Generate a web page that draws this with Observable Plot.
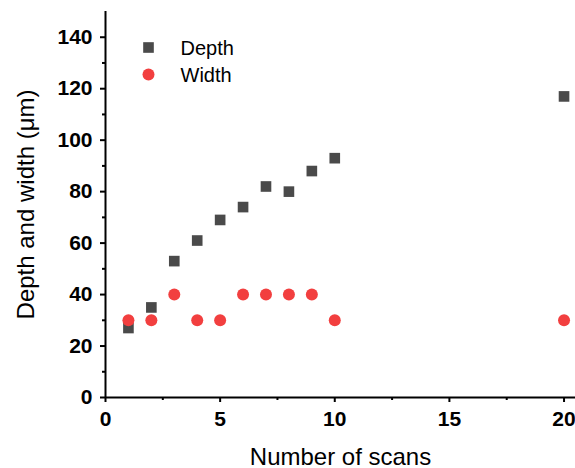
<!DOCTYPE html>
<html>
<head>
<meta charset="utf-8">
<script src="https://cdn.jsdelivr.net/npm/d3@7"></script>
<script src="https://cdn.jsdelivr.net/npm/@observablehq/plot@0.6"></script>
<style>
  html, body { margin: 0; padding: 0; background: #fff; }
  svg { display: block; }
</style>
</head>
<body>
<div id="chart"></div>
<script>
const scans = [1, 2, 3, 4, 5, 6, 7, 8, 9, 10, 20];
const depth = [27, 35, 53, 61, 69, 74, 82, 80, 88, 93, 117];
const widthVals = [30, 30, 40, 30, 30, 40, 40, 40, 40, 30, 30];
const xTicks = [0, 5, 10, 15, 20];
const xMinor = [2.5, 7.5, 12.5, 17.5];
const yTicks = [0, 20, 40, 60, 80, 100, 120, 140];
const yMinor = [10, 30, 50, 70, 90, 110, 130];
const seriesNames = ["Depth", "Width"];
const xLabel = "Number of scans";
const yLabel = "Depth and width (μm)";

const depthData = scans.map((s, i) => ({x: s, y: depth[i]}));
const widthData = scans.map((s, i) => ({x: s, y: widthVals[i]}));

const font = "'Liberation Sans', Arial, sans-serif";
const gray = "#4a4a4a";
const red = "#f23f3f";

const chart = Plot.plot({
  width: 575,
  height: 468,
  marginLeft: 105,
  marginRight: 0,
  marginTop: 11,
  marginBottom: 71,
  style: {fontFamily: font, background: "white", color: "black"},
  x: {domain: [0, 20.5]},
  y: {domain: [0, 150]},
  marks: [
    Plot.axisX({ticks: xTicks, tickSize: 5, tickPadding: 9, tickFormat: d => d, fontSize: 21, fontWeight: "bold", label: null, strokeWidth: 2, strokeOpacity: 1, stroke: "black"}),
    Plot.axisX({ticks: xMinor, tickSize: 3, tickFormat: () => "", label: null, strokeWidth: 2, strokeOpacity: 1, stroke: "black"}),
    Plot.axisY({ticks: yTicks, tickSize: 5, tickPadding: 8, tickFormat: d => d, fontSize: 21, fontWeight: "bold", label: null, strokeWidth: 2, strokeOpacity: 1, stroke: "black"}),
    Plot.axisY({ticks: yMinor, tickSize: 3, tickFormat: () => "", label: null, strokeWidth: 2, strokeOpacity: 1, stroke: "black"}),
    Plot.ruleX([0], {stroke: "black", strokeWidth: 2}),
    Plot.ruleY([0], {stroke: "black", strokeWidth: 2}),
    Plot.dot(depthData, {x: "x", y: "y", symbol: "square", r: 6, fill: gray, stroke: "none"}),
    Plot.dot(widthData, {x: "x", y: "y", symbol: "circle", r: 6, fill: red, stroke: "none"}),
    // legend
    Plot.dot([seriesNames[0]], {frameAnchor: "top-left", dx: 43, dy: 36, symbol: "square", r: 6, fill: gray, stroke: "none"}),
    Plot.dot([seriesNames[1]], {frameAnchor: "top-left", dx: 43, dy: 63, symbol: "circle", r: 6, fill: red, stroke: "none"}),
    Plot.text([seriesNames[0]], {text: d => d, frameAnchor: "top-left", dx: 75, dy: 29, textAnchor: "start", fontSize: 20, fill: "black"}),
    Plot.text([seriesNames[1]], {text: d => d, frameAnchor: "top-left", dx: 75, dy: 56, textAnchor: "start", fontSize: 20, fill: "black"}),
    // axis titles
    Plot.text([xLabel], {text: d => d, frameAnchor: "bottom", dy: 67, lineAnchor: "bottom", textAnchor: "middle", fontSize: 24, fill: "black"}),
    Plot.text([yLabel], {text: d => d, frameAnchor: "left", dx: -72, rotate: -90, lineAnchor: "bottom", textAnchor: "middle", fontSize: 24, fill: "black"})
  ]
});
document.getElementById("chart").appendChild(chart);
</script>
</body>
</html>
